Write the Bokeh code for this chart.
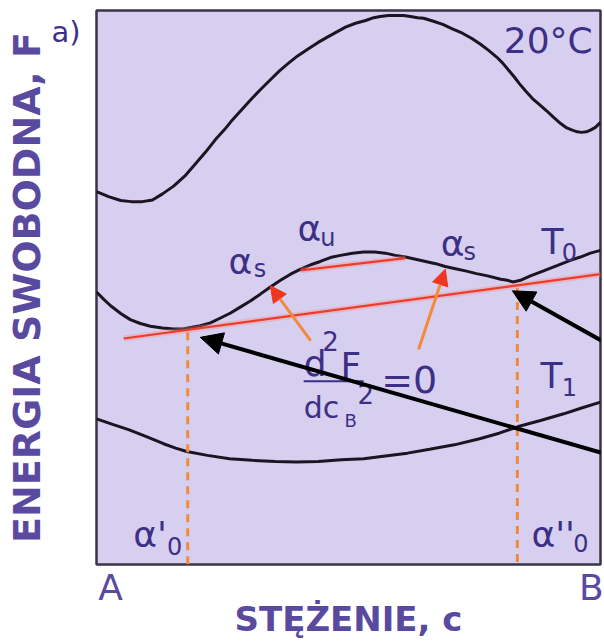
from bokeh.plotting import figure
from bokeh.models import Range1d, Arrow, NormalHead, FixedTicker, LinearAxis
from bokeh.core.properties import value
from bokeh.embed import file_html
from bokeh.resources import INLINE

# Free-energy curves F(c) across the A-B composition range (c in % B, F in arbitrary units)
c_high = [0, 2.4, 4.8, 6.9, 9.1, 11.1, 13.1, 15.3, 17.5, 19.6, 21.6, 23.6, 25.4, 27.0, 28.8,
          30.6, 32.5, 34.5, 36.3, 38.1, 39.9, 41.9, 43.9, 45.8, 47.6, 49.4, 51.4, 53.4, 55.0,
          56.3, 57.9, 59.5, 60.9, 62.3, 63.7, 64.9, 66.7, 68.7, 70.6, 72.6, 74.4, 76.2, 77.8,
          79.4, 80.6, 81.7, 82.9, 83.9, 85.1, 86.5, 87.9, 89.3, 90.7, 92.1, 93.3, 94.4, 95.4,
          96.2, 97.2, 98.0, 99.0, 100]
F_high = [67.3, 66.4, 65.7, 65.5, 65.5, 65.8, 66.9, 68.3, 70.1, 72.3, 74.4, 76.7, 78.5, 80.3, 82.1,
          83.9, 85.7, 87.5, 89.1, 90.5, 91.8, 93.0, 94.2, 95.2, 96.1, 97.0, 97.7, 98.2, 98.7,
          98.9, 99.1, 99.1, 99.1, 98.9, 98.7, 98.6, 98.1, 97.5, 96.7, 95.9, 95.0, 93.9, 92.8,
          91.6, 90.5, 89.3, 88.0, 86.8, 85.5, 84.1, 83.0, 81.9, 80.7, 79.6, 78.8, 78.4, 78.1,
          78.0, 78.1, 78.4, 78.9, 79.8]

c_T0 = [0, 1.4, 2.8, 4.8, 6.7, 8.7, 10.7, 13.1, 15.3, 17.1, 18.7, 20.6, 22.6, 24.6, 26.6,
        28.6, 30.6, 32.5, 34.5, 36.5, 38.5, 40.5, 42.5, 44.4, 46.4, 48.4, 50.8, 53.0, 55.2,
        57.3, 59.3, 61.3, 63.3, 65.3, 67.3, 69.2, 71.2, 73.2, 75.4, 77.6, 80.2, 81.5, 82.7,
        84.1, 86.1, 88.7, 91.5, 94.0, 96.0, 98.0, 100]
F_T0 = [49.2, 47.9, 46.7, 45.3, 44.2, 43.5, 43.0, 42.7, 42.5, 42.5, 42.8, 43.1, 43.6, 44.5, 45.4,
        46.5, 47.6, 48.8, 50.1, 51.3, 52.4, 53.3, 54.1, 54.7, 55.4, 55.8, 56.2, 56.4, 56.4,
        56.2, 55.8, 55.5, 55.1, 54.7, 54.3, 53.8, 53.4, 53.0, 52.5, 52.1, 51.5, 51.3, 51.0,
        51.3, 52.1, 53.0, 54.0, 54.9, 55.5, 56.2, 56.7]

c_T1 = [0, 3.2, 6.5, 9.9, 13.3, 15.7, 17.9, 22.0, 26.4, 30.9, 35.5, 39.7, 44.0, 48.6, 53.0,
        57.3, 61.7, 66.1, 71.0, 76.0, 79.9, 83.7, 88.1, 92.7, 96.4, 100]
F_T1 = [26.3, 25.3, 24.3, 23.1, 21.8, 21.0, 20.4, 19.7, 19.1, 18.8, 18.6, 18.5, 18.6, 18.9, 19.1,
        19.6, 20.1, 20.8, 21.6, 22.7, 23.7, 24.9, 26.0, 27.2, 28.3, 29.3]

# Common tangent of the T0 curve and the chord across the unstable region
tangent_c = [5.4, 100]
tangent_F = [40.8, 52.4]
chord_c = [40.5, 61.3]
chord_F = [53.1, 55.3]

# Equilibrium compositions alpha'_0 and alpha''_0 (tangent points)
eq_c = [18.1, 83.5]
eq_F = [41.9, 49.9]

# Inflection points (d2F/dc2 = 0)
infl_c = [34.5, 69.2]
infl_F = [50.3, 53.3]

# composition axis end labels
end_ticks = [2.8, 98.2]
end_names = ["A", "B"]

PURPLE_DARK = "#3d2f86"
PURPLE_AXIS = "#5a4a9f"
BG = "#d7cff0"
RED = "#ee3b2b"
ORANGE = "#f28a3c"
FONT = "DejaVu Sans"

p = figure(width=604, height=641, output_backend="svg", toolbar_location=None,
           x_range=Range1d(0, 100), y_range=Range1d(0, 100),
           min_border_left=96, min_border_right=4, min_border_top=10, min_border_bottom=72)
p.grid.visible = False
p.background_fill_color = BG
p.border_fill_color = "white"
p.outline_line_color = "#3b3347"
p.outline_line_width = 2.5


def bare(ax):
    ax.axis_line_color = None
    ax.major_tick_line_color = None
    ax.minor_tick_line_color = None
    ax.major_tick_out = 0
    ax.major_tick_in = 0
    ax.minor_tick_out = 0
    ax.minor_tick_in = 0


# composition axis: A ... B and its title
xa = p.xaxis[0]
bare(xa)
xa.ticker = FixedTicker(ticks=end_ticks)
xa.major_label_overrides = dict(zip(end_ticks, end_names))
xa.major_label_text_font = FONT
xa.major_label_text_font_size = "36px"
xa.major_label_text_color = PURPLE_AXIS
xa.major_label_standoff = 2
xa.axis_label = "STĘŻENIE, c"
xa.axis_label_text_font = FONT
xa.axis_label_text_font_size = "34px"
xa.axis_label_text_font_style = "bold"
xa.axis_label_text_color = PURPLE_AXIS
xa.axis_label_standoff = -12

# inner left axis carries the panel tag, outer one the energy title
ya = p.yaxis[0]
bare(ya)
ya.ticker = FixedTicker(ticks=[96.2])
ya.major_label_overrides = {96.2: "a)"}
ya.major_label_text_font = FONT
ya.major_label_text_font_size = "29px"
ya.major_label_text_color = PURPLE_DARK
ya.major_label_standoff = 16

ya2 = LinearAxis(ticker=FixedTicker(ticks=[]))
bare(ya2)
ya2.axis_label = "ENERGIA SWOBODNA, F"
ya2.axis_label_text_font = FONT
ya2.axis_label_text_font_size = "38px"
ya2.axis_label_text_font_style = "bold"
ya2.axis_label_text_color = PURPLE_AXIS
ya2.axis_label_standoff = 0
p.add_layout(ya2, "left")

# curves
for cs, fs in ((c_high, F_high), (c_T0, F_T0), (c_T1, F_T1)):
    p.line(cs, fs, line_color="#1c1420", line_width=3)

# dashed verticals from the tangent points down to the composition axis
for c0, f0 in zip(eq_c, eq_F):
    p.line([c0, c0], [f0, 0], line_color=ORANGE, line_width=3, line_dash="8 6")

# red tangent line and chord, with a soft halo
for xs, ys in ((tangent_c, tangent_F), (chord_c, chord_F)):
    p.line(xs, ys, line_color="#f58a7c", line_width=6, line_alpha=0.35)
    p.line(xs, ys, line_color=RED, line_width=2.2)

# orange arrows pointing at the inflection points
tails = [(42.5, 40.4), (63.9, 38.8)]
for (tx, ty), hx, hy in zip(tails, infl_c, infl_F):
    p.add_layout(Arrow(x_start=tx, y_start=ty, x_end=hx, y_end=hy,
                       line_color=ORANGE, line_width=3,
                       end=NormalHead(size=16, fill_color="#f0361f", line_color="#f0361f")))


def txt(x, y, s, size, color=PURPLE_DARK):
    p.text(x=[x], y=[y], text=[s], text_font=value(FONT), text_font_size=f"{size}px",
           text_color=color, text_align="left", text_baseline="middle")


# phase labels
txt(26.2, 54.7, "α", 36)
txt(31.2, 53.4, "s", 24)
txt(39.9, 60.6, "α", 36)
txt(44.4, 59.0, "u", 24)
txt(68.3, 58.0, "α", 36)
txt(72.8, 56.4, "s", 24)
txt(88.3, 58.3, "T", 36)
txt(92.3, 56.4, "0", 24)
txt(88.1, 34.2, "T", 36)
txt(92.3, 32.0, "1", 24)
txt(7.3, 5.5, "α'", 36)
txt(14.0, 3.3, "0", 24)
txt(86.3, 5.5, "α''", 36)
txt(94.6, 3.8, "0", 24)
txt(80.8, 94.6, "20°C", 36)

# d2F / dcB2 = 0
txt(41.1, 36.3, "d", 36)
txt(44.8, 40.3, "2", 26)
txt(48.4, 36.0, "F", 36)
p.line([41.1, 53.0], [33.1, 33.1], line_color=PURPLE_DARK, line_width=2)
txt(41.1, 28.3, "dc", 30)
txt(49.2, 26.0, "B", 18)
txt(51.8, 30.8, "2", 26)
txt(56.5, 33.3, "=0", 38)

# black arrows pointing at the equilibrium tangent points (drawn over the texts)
black_tails = [(100.8, 40.1), (100.8, 20.0)]
black_heads = [(eq_c[1] - 1.0, eq_F[1] - 0.5), (eq_c[0] + 2.5, eq_F[0] - 0.9)]
for (tx, ty), (hx, hy) in zip(black_tails, black_heads):
    p.add_layout(Arrow(x_start=tx, y_start=ty, x_end=hx, y_end=hy,
                       line_color="black", line_width=4,
                       end=NormalHead(size=22, fill_color="black", line_color="black")))

open("out.html", "w").write(file_html(p, INLINE))
